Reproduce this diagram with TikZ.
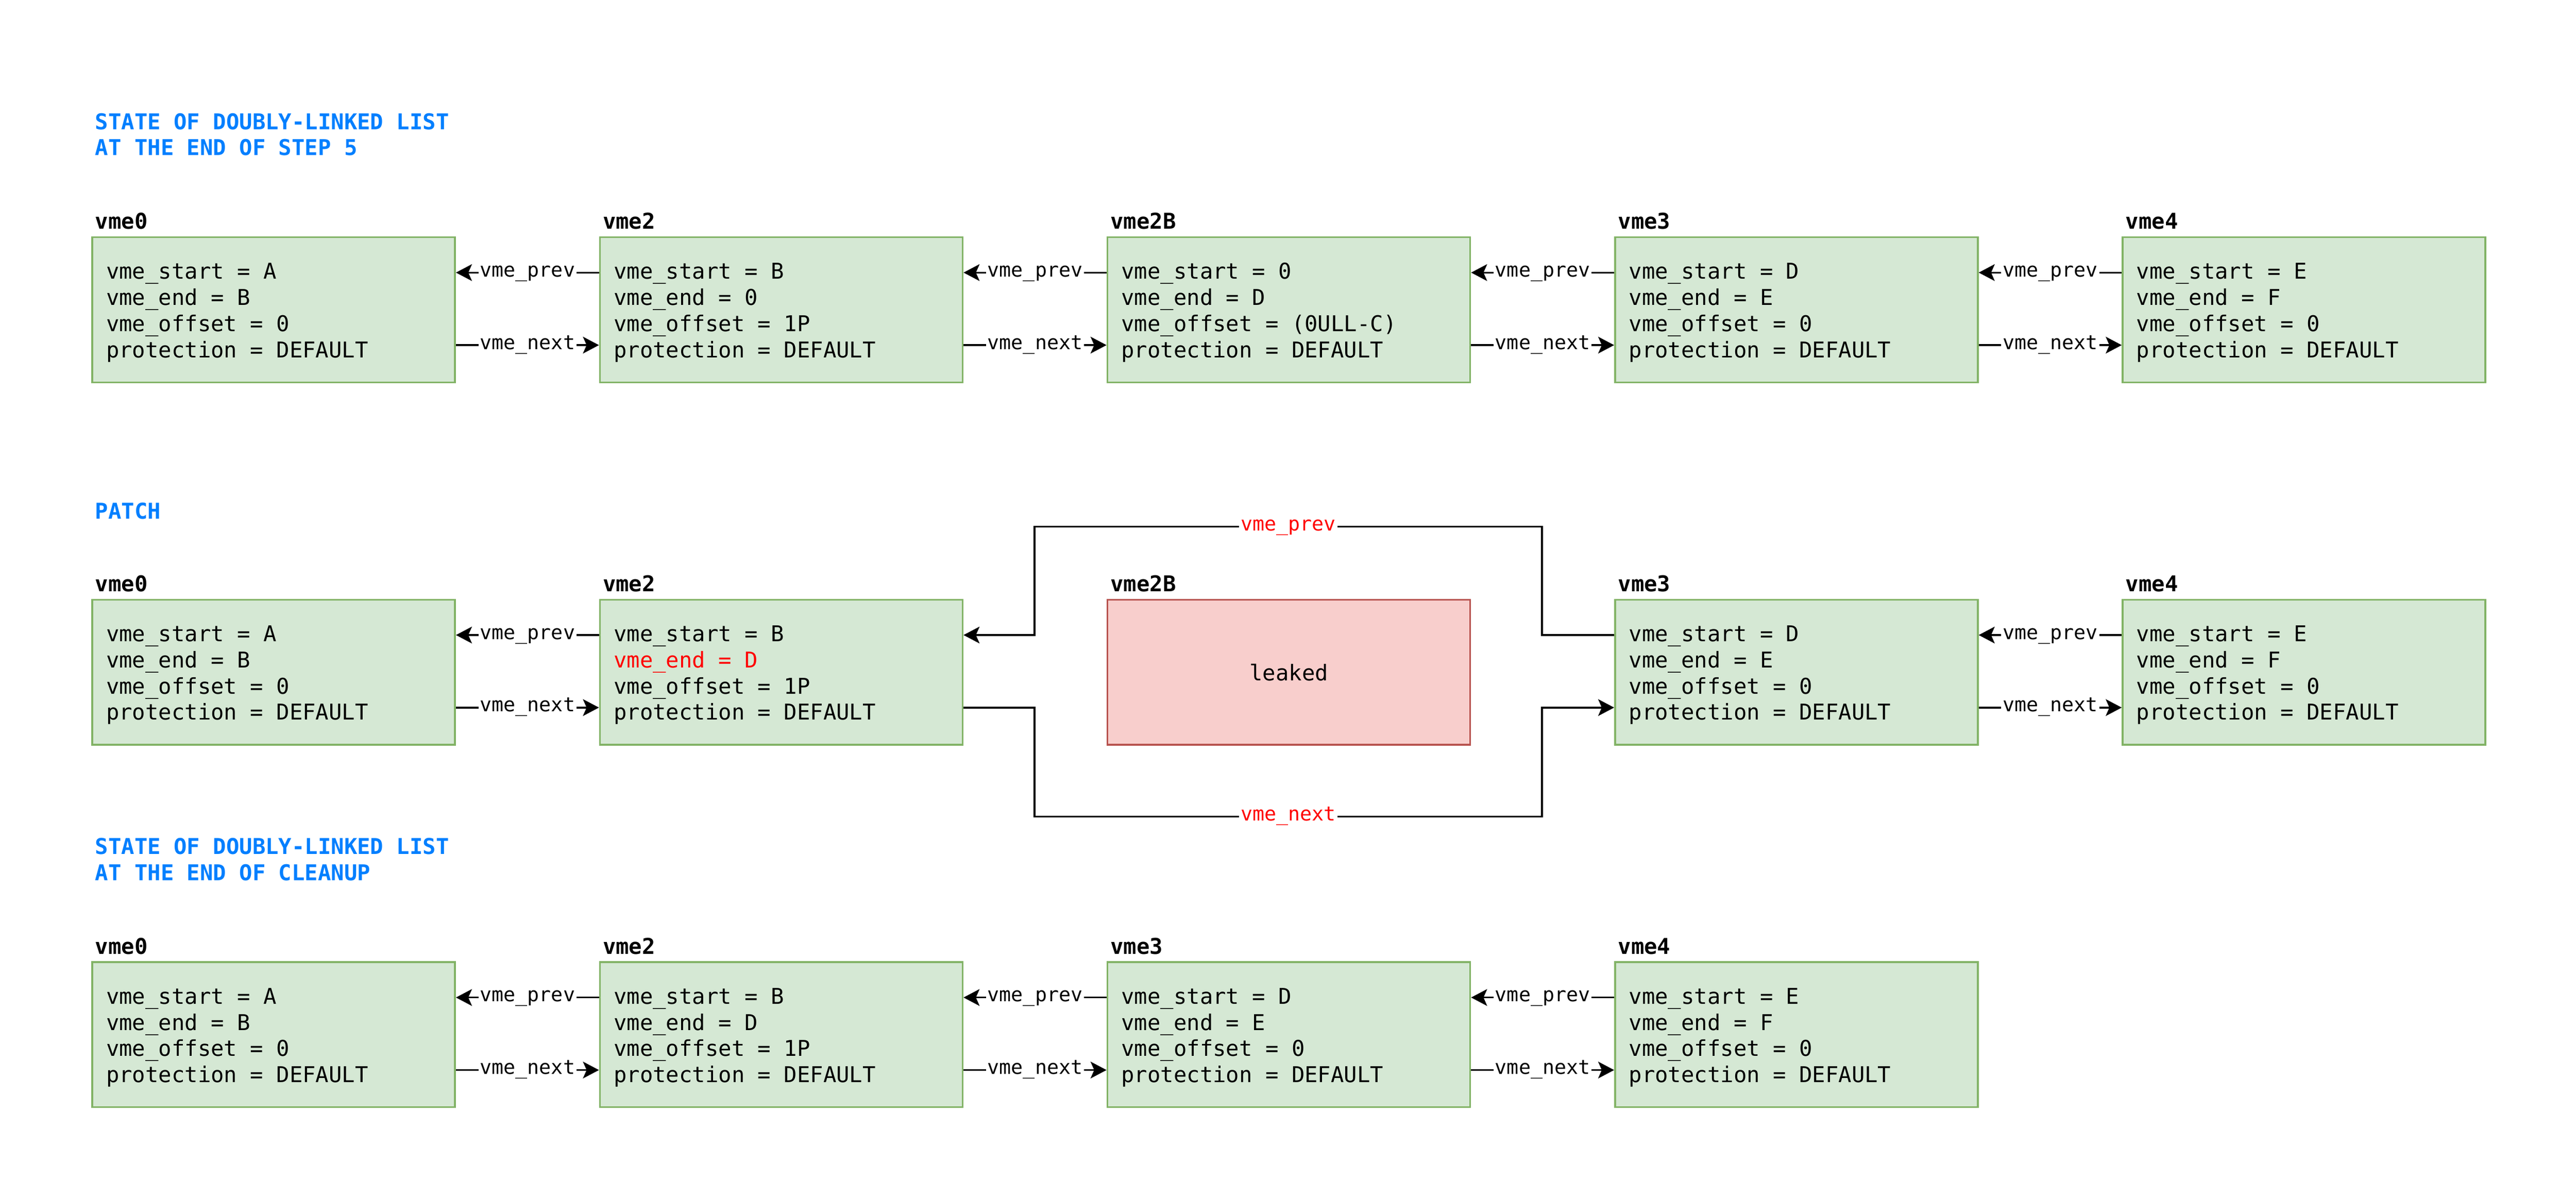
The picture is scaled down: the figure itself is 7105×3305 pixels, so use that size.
\documentclass[tikz,border=0pt]{standalone}
\usepackage{fontspec}
\setmonofont{DejaVu Sans Mono}
\usetikzlibrary{arrows.meta}
\definecolor{gfill}{HTML}{D5E8D4}
\definecolor{gline}{HTML}{82B366}
\definecolor{rfill}{HTML}{F8CECC}
\definecolor{rline}{HTML}{B85450}
\definecolor{tblue}{HTML}{007FFF}
\definecolor{tred}{HTML}{FF0000}
\newcommand{\mainfnt}{\ttfamily\fontsize{17.07pt}{20.49pt}\selectfont}
\newcommand{\vmebox}[8]{%
  \node[gbox] (#1) at (#2,#3) {};
  \node[vlbl] (#1lbl) at ([xshift=0.1cm,yshift=0.2cm]#1.north west) {#4};
  \node[fieldtxt] (#1txt) at ([xshift=0.4cm,yshift=-1.18cm]#1.north west)
    {\vtop{\hbox{#5}\hbox{#6}\hbox{#7}\hbox{#8}}};
}
\newcommand{\vmelinks}[2]{%
  \draw[conn] ([yshift=-1cm]#2.north west) -- node[clbl]{vme\_prev} ([yshift=-1cm]#1.north east);
  \draw[conn] ([yshift=-3cm]#1.north east) -- node[clbl]{vme\_next} ([yshift=-3cm]#2.north west);
}
\tikzset{
  gbox/.style={draw=gline, fill=gfill, line width=1.42pt, minimum width=10cm,
    minimum height=4cm, inner sep=0pt, anchor=north west},
  rbox/.style={draw=rline, fill=rfill, line width=1.42pt, minimum width=10cm,
    minimum height=4cm, inner sep=0pt, anchor=north west},
  fieldtxt/.style={font=\mainfnt, inner sep=0pt, anchor=base west},
  vlbl/.style={font=\mainfnt\bfseries, inner sep=0pt, anchor=base west},
  ttl/.style={font=\mainfnt\bfseries, text=tblue, inner sep=0pt, anchor=base west},
  conn/.style={line width=1.42pt, -{Stealth[length=0.44cm,width=0.46cm,inset=0.1cm]}},
  clbl/.style={fill=white, font=\ttfamily\fontsize{15.5pt}{18pt}\selectfont,
    inner xsep=0.04cm, inner ysep=0pt, text height=0.75em, text depth=0.1em},
}
\begin{document}
\begin{tikzpicture}[x=0.01cm, y=-0.01cm]
  \fill[white] (0,0) rectangle (7105,3305);
  \useasboundingbox (0,0) rectangle (7105,3305);

  % ---------- titles ----------
  \node[ttl] (t1) at (262,357)
    {\vtop{\hbox{STATE OF DOUBLY-LINKED LIST}\hbox{AT THE END OF STEP 5}}};
  \node[ttl] (t2) at (262,1431) {PATCH};
  \node[ttl] (t3) at (262,2357)
    {\vtop{\hbox{STATE OF DOUBLY-LINKED LIST}\hbox{AT THE END OF CLEANUP}}};

  % ---------- row 1 ----------
  \vmebox{aa}{252}{652}{vme0}{vme\_start = A}{vme\_end = B}{vme\_offset = 0}{protection = DEFAULT}
  \vmebox{ab}{1652}{652}{vme2}{vme\_start = B}{vme\_end = 0}{vme\_offset = 1P}{protection = DEFAULT}
  \vmebox{ac}{3052}{652}{vme2B}{vme\_start = 0}{vme\_end = D}{vme\_offset = (0ULL-C)}{protection = DEFAULT}
  \vmebox{ad}{4452}{652}{vme3}{vme\_start = D}{vme\_end = E}{vme\_offset = 0}{protection = DEFAULT}
  \vmebox{ae}{5852}{652}{vme4}{vme\_start = E}{vme\_end = F}{vme\_offset = 0}{protection = DEFAULT}
  \vmelinks{aa}{ab}
  \vmelinks{ab}{ac}
  \vmelinks{ac}{ad}
  \vmelinks{ad}{ae}

  % ---------- row 2 (patch) ----------
  \vmebox{ba}{252}{1652}{vme0}{vme\_start = A}{vme\_end = B}{vme\_offset = 0}{protection = DEFAULT}
  \vmebox{bb}{1652}{1652}{vme2}{vme\_start = B}{\textcolor{tred}{vme\_end = D}}{vme\_offset = 1P}{protection = DEFAULT}
  \node[rbox] (bc) at (3052,1652) {};
  \node[vlbl] (bclbl) at ([xshift=0.1cm,yshift=0.2cm]bc.north west) {vme2B};
  \node[font=\mainfnt, inner sep=0pt] (bctxt) at (bc.center) {leaked};
  \vmebox{bd}{4452}{1652}{vme3}{vme\_start = D}{vme\_end = E}{vme\_offset = 0}{protection = DEFAULT}
  \vmebox{be}{5852}{1652}{vme4}{vme\_start = E}{vme\_end = F}{vme\_offset = 0}{protection = DEFAULT}
  \vmelinks{ba}{bb}
  \vmelinks{bd}{be}
  \coordinate (pu1) at (4253,1453);
  \coordinate (pu2) at (2853,1453);
  \coordinate (pn1) at (2853,2253);
  \coordinate (pn2) at (4253,2253);
  \draw[conn] ([yshift=-1cm]bd.north west) -| (pu1)
     -- node[clbl, text=tred]{vme\_prev} (pu2) |- ([yshift=-1cm]bb.north east);
  \draw[conn] ([yshift=-3cm]bb.north east) -| (pn1)
     -- node[clbl, text=tred]{vme\_next} (pn2) |- ([yshift=-3cm]bd.north west);

  % ---------- row 3 ----------
  \vmebox{ca}{252}{2652}{vme0}{vme\_start = A}{vme\_end = B}{vme\_offset = 0}{protection = DEFAULT}
  \vmebox{cb}{1652}{2652}{vme2}{vme\_start = B}{vme\_end = D}{vme\_offset = 1P}{protection = DEFAULT}
  \vmebox{cc}{3052}{2652}{vme3}{vme\_start = D}{vme\_end = E}{vme\_offset = 0}{protection = DEFAULT}
  \vmebox{cd}{4452}{2652}{vme4}{vme\_start = E}{vme\_end = F}{vme\_offset = 0}{protection = DEFAULT}
  \vmelinks{ca}{cb}
  \vmelinks{cb}{cc}
  \vmelinks{cc}{cd}
\end{tikzpicture}
\end{document}
